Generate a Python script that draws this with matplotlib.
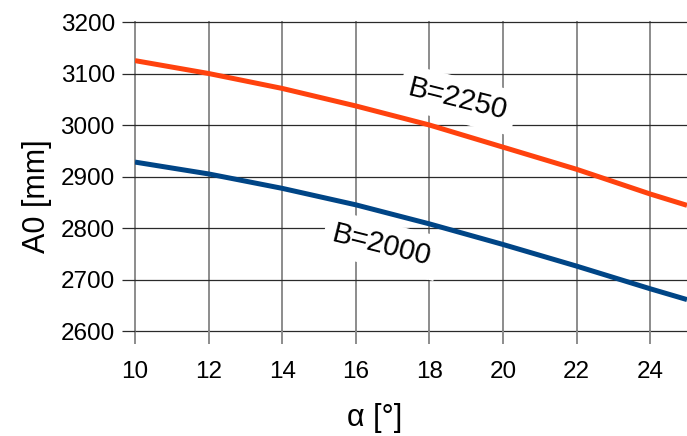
import numpy as np
import matplotlib.pyplot as plt

plt.rcParams['font.family'] = ['Liberation Sans', 'DejaVu Sans']

# values
alpha = [10, 12, 14, 16, 18, 20, 22, 24, 25]
a0_b2250 = [3125, 3100, 3071, 3037, 3000, 2957, 2914, 2866, 2844]
a0_b2000 = [2928, 2905, 2877, 2845, 2808, 2768, 2726, 2682, 2661]
x_ticks = [10, 12, 14, 16, 18, 20, 22, 24]
y_ticks = [2600, 2700, 2800, 2900, 3000, 3100, 3200]

W, H = 687, 436
fig = plt.figure(figsize=(W / 100, H / 100), dpi=100)
ax = fig.add_axes([135 / W, 1 - 331 / H, 552 / W, 309 / H])

ax.plot(alpha, a0_b2250, color='#ff420e', lw=3.6, solid_capstyle='butt', zorder=3)
ax.plot(alpha, a0_b2000, color='#004586', lw=3.6, solid_capstyle='butt', zorder=3)

ax.set_xlim(10, 25)
ax.set_ylim(2600, 3200)
ax.set_xticks(x_ticks)
ax.set_yticks(y_ticks)

# vertical grid gray, horizontal grid dark
for x in x_ticks:
    ax.axvline(x, color='#8c8c8c', lw=1.4, zorder=1, clip_on=False)
for y in y_ticks:
    ax.axhline(y, color='#2a2a2a', lw=0.9, zorder=1, clip_on=False)

for s in ax.spines.values():
    s.set_visible(False)

ax.tick_params(axis='x', length=9.5, width=1.4, color='#8c8c8c', labelsize=17.5, pad=12)
ax.tick_params(axis='y', length=9.5, width=0.9, color='#2a2a2a', labelsize=17.5, pad=5)

fig.text(375 / W, 1 - 418 / H, 'α [°]', fontsize=22, ha='center', va='center')
fig.text(37.5 / W, 1 - 196.5 / H, 'A0 [mm]', fontsize=22, ha='center', va='center',
         rotation=90)

box = dict(facecolor='white', edgecolor='none', pad=6)
ax.text(18.78, 3049, 'B=2250', fontsize=21, rotation=-14, ha='center', va='center',
        bbox=box, zorder=4)
ax.text(16.7, 2767, 'B=2000', fontsize=21, rotation=-14, ha='center', va='center',
        bbox=box, zorder=4)

fig.savefig('out.png', dpi=100)
